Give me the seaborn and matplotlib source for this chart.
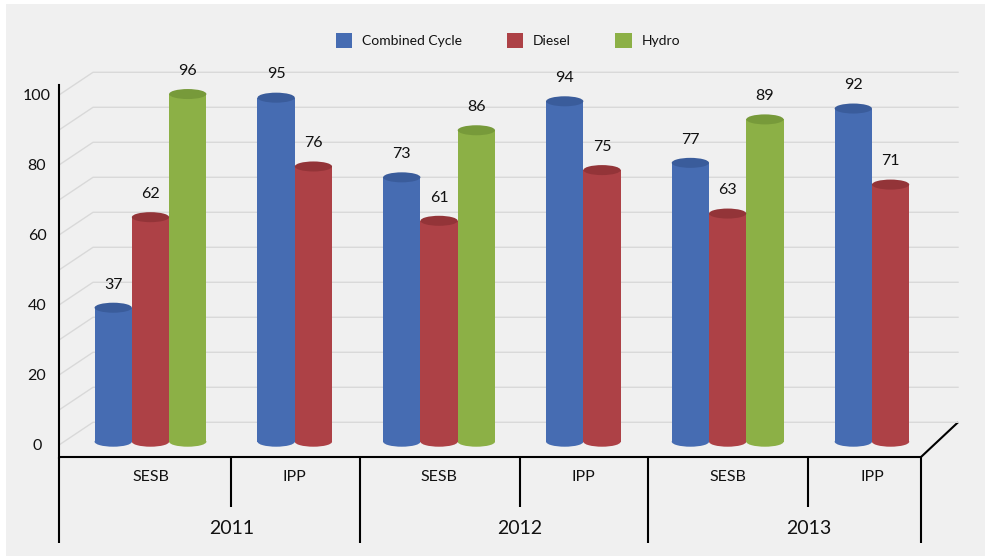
import numpy as np
import pandas as pd
import matplotlib
matplotlib.use("Agg")
import matplotlib.pyplot as plt
import matplotlib.transforms as mtrans
from matplotlib.patches import Ellipse, Patch, Rectangle
from matplotlib.colors import to_hex
import seaborn as sns

# ---------------- data ----------------
years = ["2011", "2012", "2013"]
producers = ["SESB", "IPP"]
series_names = ["Combined Cycle", "Diesel", "Hydro"]
combined_cycle = [37, 95, 73, 94, 77, 92]
diesel = [62, 76, 61, 75, 63, 71]
hydro = [96, np.nan, 86, np.nan, 89, np.nan]
y_ticks = [0, 20, 40, 60, 80, 100]

body_colors = {"Combined Cycle": "#466cb2", "Diesel": "#ad4146", "Hydro": "#8cb046"}
top_colors = {"Combined Cycle": "#3a5c9b", "Diesel": "#933438", "Hydro": "#779a3a"}

categories = [f"{y} {p}" for y in years for p in producers]
rows = []
for name, vals in zip(series_names, [combined_cycle, diesel, hydro]):
    for cat, v in zip(categories, vals):
        if not np.isnan(v):
            rows.append(dict(category=cat, producer=cat.split()[1], series=name, value=v))
df = pd.DataFrame(rows)

plt.rcParams["font.family"] = ["Lato", "DejaVu Sans"]
TXT = "#111111"

# ---------------- figure ----------------
W, H = 985, 556
fig = plt.figure(figsize=(W / 100, H / 100), dpi=100)
fig.patch.set_facecolor("white")


def box(x0, y0, x1, y1):
    return [x0 / W, 1 - y1 / H, (x1 - x0) / W, (y1 - y0) / H]


# background panel (pixel space)
bg = fig.add_axes([0, 0, 1, 1])
bg.set_xlim(0, W)
bg.set_ylim(H, 0)
bg.axis("off")
bg.add_patch(Rectangle((6, 4), W - 6, H - 4, facecolor="#f0f0f0", edgecolor="none"))

# frame axes: back wall, gridlines and value axis
fax = fig.add_axes(box(59, 85, 958, 458))
fax.set_facecolor("none")
fax.set_xlim(59, 958)
fax.set_ylim((445 - 458) / 3.5, (445 - 85) / 3.5)
for s in ["top", "right", "bottom"]:
    fax.spines[s].set_visible(False)
fax.spines["left"].set_color("black")
fax.spines["left"].set_linewidth(1.5)
fax.set_xticks([])
fax.set_yticks(y_ticks)
fax.set_yticklabels([str(t) for t in y_ticks])
fax.tick_params(axis="y", length=0, pad=15.8, labelsize=11.5, labelcolor=TXT)
for t in fax.get_yticklabels():
    t.set_ha("center")
depth = 22.7 / 3.5
for v in np.arange(0, max(y_ticks) + 1, 10):
    fax.plot([59, 93, 958], [v, v + depth, v + depth], color="#d9d9d9",
             lw=1.0, clip_on=False, zorder=0)

# bars axes
ax = fig.add_axes(box(59, 60, 921, 458))
ax.set_facecolor("none")
total_w = 0.775
sns.barplot(data=df[df["producer"] == "SESB"], x="category", y="value", hue="series",
            order=categories, hue_order=series_names, palette=body_colors,
            width=total_w, saturation=1, errorbar=None, legend=False,
            linewidth=0, ax=ax)
sns.barplot(data=df[df["producer"] == "IPP"], x="category", y="value", hue="series",
            order=categories, hue_order=series_names[:2], palette=body_colors,
            width=total_w * 2 / 3, saturation=1, errorbar=None, legend=False,
            linewidth=0, ax=ax)
ax.set_xlim(-0.634, 5.34)
ax.set_ylim(-4.5, 105.4)
ax.axis("off")

hex_to_series = {to_hex(c): n for n, c in body_colors.items()}
cap_h = 10 / 3.62
for p in list(ax.patches):
    if not isinstance(p, Rectangle):
        continue
    h = p.get_height()
    if np.isnan(h) or p.get_width() <= 0:
        continue
    name = hex_to_series.get(to_hex(p.get_facecolor()))
    if name is None:
        continue
    cx = p.get_x() + p.get_width() / 2
    w = p.get_width()
    p.set_zorder(2)
    ax.add_patch(Ellipse((cx, 0), w, cap_h, facecolor=body_colors[name],
                         edgecolor="none", zorder=1.9))
    ax.add_patch(Ellipse((cx, h), w, cap_h, facecolor=top_colors[name],
                         edgecolor="none", zorder=2.1))
    ax.text(cx, h + 6.4, f"{h:.0f}", ha="center", va="center", fontsize=11.5,
            color=TXT, zorder=3)

# floor / category axis (x from bar axes, y in pixels)
tr = mtrans.blended_transform_factory(ax.transData, bg.transData)
line_kw = dict(color="black", lw=1.5, transform=tr, clip_on=False, solid_capstyle="butt")
x_left, x_right = ax.get_xlim()
ax.plot([x_left, x_right], [457, 457], **line_kw)
bg.plot([921, 958], [457, 422.3], color="black", lw=1.5, solid_capstyle="butt")
ax.plot([x_left, x_left], [457, 543], **line_kw)
ax.plot([x_right, x_right], [457, 543], **line_kw)
for j, yr in enumerate(years):
    mid = 2 * j + 0.56
    ax.plot([mid, mid], [457, 507], **line_kw)
    if j < len(years) - 1:
        b = 2 * j + 1.45
        ax.plot([b, b], [457, 543], **line_kw)
    ax.text(mid, 529, yr, transform=tr, ha="center", va="center", fontsize=14, color=TXT)
for i, cat in enumerate(categories):
    ax.text(i, 477, cat.split()[1], transform=tr, ha="center", va="center",
            fontsize=11.5, color=TXT)

# legend
handles = [Patch(facecolor=body_colors[n], edgecolor="none", label=n) for n in series_names]
fig.legend(handles=handles, loc="center", bbox_to_anchor=(508 / W, 1 - 40.5 / H),
           ncol=3, frameon=False, fontsize=10, handlelength=1.2, handleheight=1.2,
           handletextpad=0.7, columnspacing=3.2, labelcolor=TXT)

fig.savefig("out.png", dpi=100, facecolor=fig.get_facecolor())
